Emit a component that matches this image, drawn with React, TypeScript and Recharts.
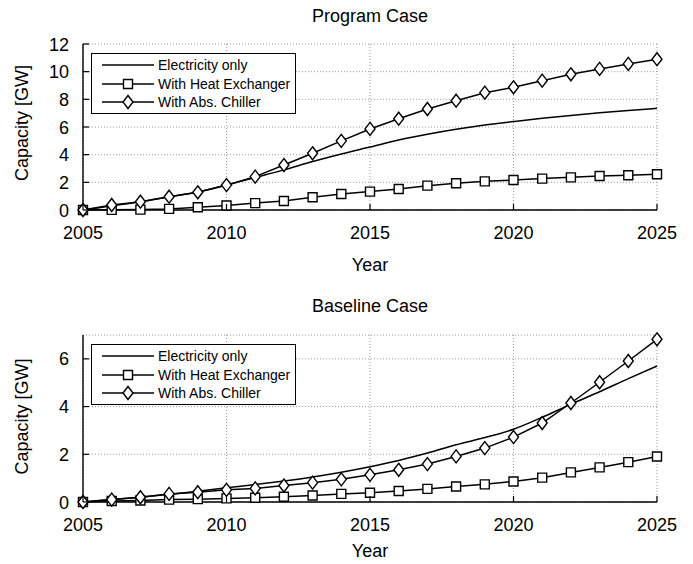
import React from 'react'
import { LineChart, Line, XAxis, YAxis, CartesianGrid, Legend } from 'recharts'

const years = [2005, 2006, 2007, 2008, 2009, 2010, 2011, 2012, 2013, 2014, 2015, 2016, 2017, 2018, 2019, 2020, 2021, 2022, 2023, 2024, 2025]

const programElectricity = [0, 0.3, 0.6, 0.95, 1.3, 1.8, 2.35, 2.9, 3.5, 4.05, 4.55, 5.06, 5.47, 5.83, 6.14, 6.39, 6.63, 6.84, 7.03, 7.2, 7.35]
const programHeatExchanger = [0, 0.01, 0.03, 0.08, 0.2, 0.33, 0.5, 0.65, 0.92, 1.16, 1.33, 1.52, 1.76, 1.93, 2.07, 2.17, 2.27, 2.36, 2.46, 2.51, 2.58]
const programAbsChiller = [0, 0.36, 0.6, 0.96, 1.28, 1.8, 2.41, 3.25, 4.1, 5.0, 5.86, 6.6, 7.3, 7.9, 8.48, 8.87, 9.35, 9.81, 10.2, 10.56, 10.9]

const baselineElectricity = [0, 0.1, 0.2, 0.32, 0.45, 0.6, 0.73, 0.88, 1.05, 1.25, 1.48, 1.74, 2.05, 2.4, 2.7, 3.05, 3.55, 4.1, 4.62, 5.17, 5.7]
const baselineHeatExchanger = [0, 0.04, 0.06, 0.1, 0.12, 0.15, 0.18, 0.22, 0.27, 0.34, 0.39, 0.46, 0.55, 0.65, 0.74, 0.86, 1.02, 1.24, 1.45, 1.67, 1.91]
const baselineAbsChiller = [0, 0.1, 0.2, 0.34, 0.41, 0.51, 0.57, 0.69, 0.81, 0.95, 1.14, 1.35, 1.59, 1.91, 2.26, 2.72, 3.31, 4.15, 5.02, 5.91, 6.82]

const yearTicks = [2005, 2010, 2015, 2020, 2025]
const programTicks = [0, 2, 4, 6, 8, 10, 12]
const baselineTicks = [0, 2, 4, 6]

const seriesNames = ['Electricity only', 'With Heat Exchanger', 'With Abs. Chiller']

const FONT = '"Liberation Sans", Arial, Helvetica, sans-serif'

const programData = years.map((year, i) => ({
  year,
  electricity: programElectricity[i],
  heatExchanger: programHeatExchanger[i],
  absChiller: programAbsChiller[i],
}))

const baselineData = years.map((year, i) => ({
  year,
  electricity: baselineElectricity[i],
  heatExchanger: baselineHeatExchanger[i],
  absChiller: baselineAbsChiller[i],
}))

const squarePath = (cx: number, cy: number) => `M${cx - 4.5},${cy - 4.5}h9v9h-9Z`
const diamondPath = (cx: number, cy: number) => `M${cx},${cy - 6.5}L${cx + 5},${cy}L${cx},${cy + 6.5}L${cx - 5},${cy}Z`

const renderSquare = (p: any) => (
  <path key={`sq-${p.index}`} d={squarePath(p.cx, p.cy)} fill="#fff" stroke="#000" strokeWidth={1.4} />
)
const renderDiamond = (p: any) => (
  <path key={`dm-${p.index}`} d={diamondPath(p.cx, p.cy)} fill="#fff" stroke="#000" strokeWidth={1.4} />
)

const BottomTick = (props: any) => {
  const { x, y, payload } = props
  return (
    <g>
      <line x1={x} y1={y} x2={x} y2={y - 6} stroke="#000" strokeWidth={1.2} />
      <text x={x} y={y + 29} textAnchor="middle" fontSize={18} fontFamily={FONT} fill="#000">
        {payload.value}
      </text>
    </g>
  )
}

const TopTick = (props: any) => {
  const { x, y } = props
  return <line x1={x} y1={y} x2={x} y2={y + 6} stroke="#000" strokeWidth={1.2} />
}

const LeftTick = (props: any) => {
  const { x, y, payload } = props
  return (
    <g>
      <line x1={x} y1={y} x2={x + 6} y2={y} stroke="#000" strokeWidth={1.2} />
      <text x={x - 14} y={y + 6.5} textAnchor="end" fontSize={18} fontFamily={FONT} fill="#000">
        {payload.value}
      </text>
    </g>
  )
}

const RightTick = (props: any) => {
  const { x, y } = props
  return <line x1={x} y1={y} x2={x - 6} y2={y} stroke="#000" strokeWidth={1.2} />
}

const YTitle = (props: any) => {
  const { viewBox, shift = 0 } = props
  const cy = viewBox.y + viewBox.height / 2 + shift
  return (
    <text transform={`rotate(-90 28 ${cy})`} x={28} y={cy} textAnchor="middle" fontSize={18} fontFamily={FONT} fill="#000">
      Capacity [GW]
    </text>
  )
}

const XTitle = (props: any) => {
  const { viewBox, baseline } = props
  return (
    <text x={viewBox.x + viewBox.width / 2} y={viewBox.y + baseline} textAnchor="middle" fontSize={18} fontFamily={FONT} fill="#000">
      Year
    </text>
  )
}

const LegendBox = (props: any) => {
  const { payload = [] } = props
  const ordered = [...payload].sort((a: any, b: any) => seriesNames.indexOf(a.value) - seriesNames.indexOf(b.value))
  return (
    <div
      style={{
        border: '1.5px solid #000',
        background: '#fff',
        width: 203,
        height: 57,
        padding: '2px 0 0 0',
        boxSizing: 'content-box',
        fontFamily: FONT,
        fontSize: 14,
        color: '#000',
      }}
    >
      {ordered.map((entry: any) => (
        <div key={entry.dataKey} style={{ display: 'flex', alignItems: 'center', height: 18.5 }}>
          <svg width={66} height={18} style={{ flex: 'none' }}>
            <line x1={10} y1={9} x2={62} y2={9} stroke="#000" strokeWidth={1.5} />
            {entry.dataKey === 'heatExchanger' && <path d={squarePath(36, 9)} fill="#fff" stroke="#000" strokeWidth={1.4} />}
            {entry.dataKey === 'absChiller' && <path d={diamondPath(36, 9)} fill="#fff" stroke="#000" strokeWidth={1.4} />}
          </svg>
          <span style={{ whiteSpace: 'nowrap' }}>{entry.value}</span>
        </div>
      ))}
    </div>
  )
}

interface PanelProps {
  data: any[]
  yTicks: number[]
  yMax: number
  height: number
  top: number
  xAxisHeight: number
  titleBaseline: number
  yTitleShift: number
}

function Panel({ data, yTicks, yMax, height, top, xAxisHeight, titleBaseline, yTitleShift }: PanelProps) {
  return (
    <LineChart width={693} height={height} data={data} margin={{ top, right: 36, bottom: 0, left: 0 }}>
      <CartesianGrid stroke="#9a9a9a" strokeDasharray="1 2" strokeWidth={1} />
      <XAxis
        dataKey="year"
        type="number"
        domain={[2005, 2025]}
        ticks={yearTicks}
        height={xAxisHeight}
        tickLine={false}
        tickSize={0}
        tickMargin={0}
        tick={<BottomTick />}
        axisLine={{ stroke: '#000', strokeWidth: 1.4 }}
        label={<XTitle baseline={titleBaseline} />}
      />
      <XAxis
        xAxisId="top"
        orientation="top"
        dataKey="year"
        type="number"
        domain={[2005, 2025]}
        ticks={yearTicks}
        height={0}
        tickLine={false}
        tickSize={0}
        tickMargin={0}
        tick={<TopTick />}
        axisLine={{ stroke: '#000', strokeWidth: 1.4 }}
      />
      <YAxis
        type="number"
        domain={[0, yMax]}
        ticks={yTicks}
        width={83}
        tickLine={false}
        tickSize={0}
        tickMargin={0}
        tick={<LeftTick />}
        axisLine={{ stroke: '#000', strokeWidth: 1.4 }}
        label={<YTitle shift={yTitleShift} />}
      />
      <YAxis
        yAxisId="right"
        orientation="right"
        type="number"
        domain={[0, yMax]}
        ticks={yTicks}
        width={0}
        tickLine={false}
        tickSize={0}
        tickMargin={0}
        tick={<RightTick />}
        axisLine={{ stroke: '#000', strokeWidth: 1.4 }}
      />
      <Legend
        layout="vertical"
        align="center"
        verticalAlign="middle"
        content={<LegendBox />}
        wrapperStyle={{ left: 91, top: top + 9, width: 'auto', height: 'auto' }}
      />
      <Line
        name={seriesNames[0]}
        dataKey="electricity"
        type="monotone"
        stroke="#000"
        strokeWidth={1.5}
        dot={false}
        activeDot={false}
        isAnimationActive={false}
      />
      <Line
        name={seriesNames[1]}
        dataKey="heatExchanger"
        type="linear"
        stroke="#000"
        strokeWidth={1.5}
        dot={renderSquare}
        activeDot={false}
        isAnimationActive={false}
      />
      <Line
        name={seriesNames[2]}
        dataKey="absChiller"
        type="linear"
        stroke="#000"
        strokeWidth={1.5}
        dot={renderDiamond}
        activeDot={false}
        isAnimationActive={false}
      />
    </LineChart>
  )
}

const titleStyle: React.CSSProperties = {
  position: 'absolute',
  left: 83,
  width: 574,
  textAlign: 'center',
  fontSize: 18,
  lineHeight: '18px',
  fontFamily: FONT,
  color: '#000',
}

export default function App() {
  return (
    <div style={{ position: 'absolute', left: 0, top: 0, width: 693, height: 564, background: '#fff', fontFamily: FONT }}>
      <div style={{ position: 'absolute', left: 0, top: 0 }}>
        <Panel data={programData} yTicks={programTicks} yMax={12} height={290} top={44} xAxisHeight={80} titleBaseline={61} yTitleShift={-4} />
      </div>
      <div style={{ position: 'absolute', left: 0, top: 290 }}>
        <Panel data={baselineData} yTicks={baselineTicks} yMax={7} height={274} top={45} xAxisHeight={62} titleBaseline={55} yTitleShift={-2} />
      </div>
      <div style={{ ...titleStyle, top: 7 }}>Program Case</div>
      <div style={{ ...titleStyle, top: 297 }}>Baseline Case</div>
    </div>
  )
}
